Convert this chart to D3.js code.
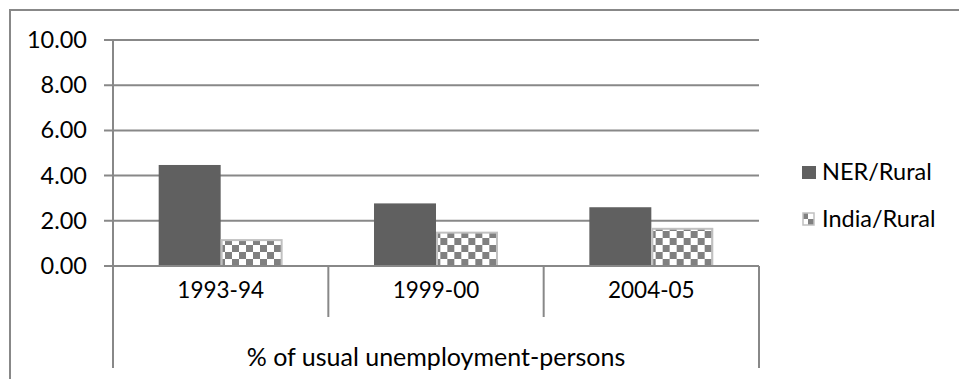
<html>
<script src='https://d3js.org/d3.v7.min.js'></script>
<style>
body {margin:0; background:#fff;}
text {font-family: Lato, "Open Sans", sans-serif; fill:#000;}
</style>
<body onload='init()'>
<svg width=959 height=379></svg>
<script>
var categories = ["1993-94", "1999-00", "2004-05"];
var seriesNames = ["NER/Rural", "India/Rural"];
var nerRural = [4.47, 2.77, 2.60];
var indiaRural = [1.19, 1.52, 1.69];
var yTicks = [0, 2, 4, 6, 8, 10];
var axisTitle = "% of usual unemployment-persons";

function init() {
    var svg = d3.select("svg");
    var lineCol = "#888";

    var left = 113, right = 759, top = 40, base = 266;

    // checker pattern for India
    var defs = svg.append("defs");
    var pat = defs.append("pattern")
        .attr("id", "checker")
        .attr("patternUnits", "userSpaceOnUse")
        .attr("width", 14).attr("height", 14);
    pat.append("rect").attr("width", 14).attr("height", 14).attr("fill", "#fff");
    pat.append("rect").attr("width", 7).attr("height", 7).attr("fill", "#808080");
    pat.append("rect").attr("x", 7).attr("y", 7).attr("width", 7).attr("height", 7).attr("fill", "#808080");

    var legPat = defs.append("pattern")
        .attr("id", "checkerLeg")
        .attr("patternUnits", "userSpaceOnUse")
        .attr("x", 802).attr("y", 212)
        .attr("width", 12).attr("height", 14);
    legPat.append("rect").attr("width", 12).attr("height", 14).attr("fill", "#fff");
    legPat.append("rect").attr("width", 6).attr("height", 7).attr("fill", "#808080");
    legPat.append("rect").attr("x", 6).attr("y", 7).attr("width", 6).attr("height", 7).attr("fill", "#808080");

    // outer frame
    svg.append("rect")
        .attr("x", 10).attr("y", 10)
        .attr("width", 980).attr("height", 400)
        .attr("fill", "none").attr("stroke", lineCol).attr("stroke-width", 2);

    var x = d3.scaleBand(categories, [left, right]).paddingInner(0).paddingOuter(0);
    var xs = d3.scaleBand(seriesNames, [0, x.bandwidth()]).paddingInner(0).paddingOuter(0.737);
    var y = d3.scaleLinear([0, 10], [base, top]);

    // gridlines
    svg.append("g").selectAll("line")
        .data(yTicks)
        .enter().append("line")
        .attr("x1", left - 9).attr("x2", right)
        .attr("y1", d => y(d)).attr("y2", d => y(d))
        .attr("stroke", lineCol).attr("stroke-width", 2);

    // y axis labels
    var yAxis = d3.axisLeft(y)
        .tickValues(yTicks)
        .tickFormat(d3.format(".2f"))
        .tickSize(0)
        .tickPadding(26);
    var ya = svg.append("g")
        .attr("transform", "translate(" + left + ",0)")
        .call(yAxis);
    ya.select(".domain").remove();
    ya.selectAll("text").attr("font-size", 23.5).attr("font-family", "Lato");

    // bars
    var groups = svg.append("g").selectAll("g")
        .data(categories)
        .enter().append("g")
        .attr("transform", d => "translate(" + x(d) + ",0)");

    groups.append("rect")
        .attr("x", xs("NER/Rural"))
        .attr("width", xs.bandwidth())
        .attr("y", (d, i) => y(nerRural[i]))
        .attr("height", (d, i) => base - y(nerRural[i]))
        .attr("fill", "#606060");

    groups.append("rect")
        .attr("x", xs("India/Rural") + 1)
        .attr("width", xs.bandwidth() - 2)
        .attr("y", (d, i) => y(indiaRural[i]) + 1)
        .attr("height", (d, i) => base - y(indiaRural[i]) - 1)
        .attr("fill", "url(#checker)")
        .attr("stroke", "#c0c0c0").attr("stroke-width", 2);

    // y axis line
    svg.append("line")
        .attr("x1", left).attr("x2", left)
        .attr("y1", top).attr("y2", 368)
        .attr("stroke", lineCol).attr("stroke-width", 2);
    // baseline
    svg.append("line")
        .attr("x1", left - 9).attr("x2", right)
        .attr("y1", base).attr("y2", base)
        .attr("stroke", lineCol).attr("stroke-width", 2);

    // category separators
    svg.append("g").selectAll("line")
        .data(categories.slice(1))
        .enter().append("line")
        .attr("x1", d => x(d)).attr("x2", d => x(d))
        .attr("y1", base).attr("y2", 317)
        .attr("stroke", lineCol).attr("stroke-width", 2);
    svg.append("line")
        .attr("x1", right).attr("x2", right)
        .attr("y1", base).attr("y2", 368)
        .attr("stroke", lineCol).attr("stroke-width", 2);

    // category labels
    svg.append("g").selectAll("text")
        .data(categories)
        .enter().append("text")
        .attr("x", d => x(d) + x.bandwidth() / 2)
        .attr("y", 290)
        .attr("dy", "0.35em")
        .attr("text-anchor", "middle")
        .attr("font-size", 22.5)
        .text(d => d);

    svg.append("text")
        .attr("x", (left + right) / 2)
        .attr("y", 357)
        .attr("dy", "0.35em")
        .attr("text-anchor", "middle")
        .attr("font-size", 25)
        .text(axisTitle);

    // legend
    var leg = svg.append("g");
    leg.append("rect")
        .attr("x", 802).attr("y", 166).attr("width", 14).attr("height", 13)
        .attr("fill", "#606060");
    leg.append("rect")
        .attr("x", 803).attr("y", 213).attr("width", 11).attr("height", 12)
        .attr("fill", "url(#checkerLeg)")
        .attr("stroke", "#c0c0c0").attr("stroke-width", 1.5);
    leg.selectAll("text")
        .data(seriesNames)
        .enter().append("text")
        .attr("x", 822)
        .attr("y", (d, i) => 172 + i * 47)
        .attr("dy", "0.35em")
        .attr("font-size", 23.5)
        .text(d => d);
}
</script>
</body>
</html>
